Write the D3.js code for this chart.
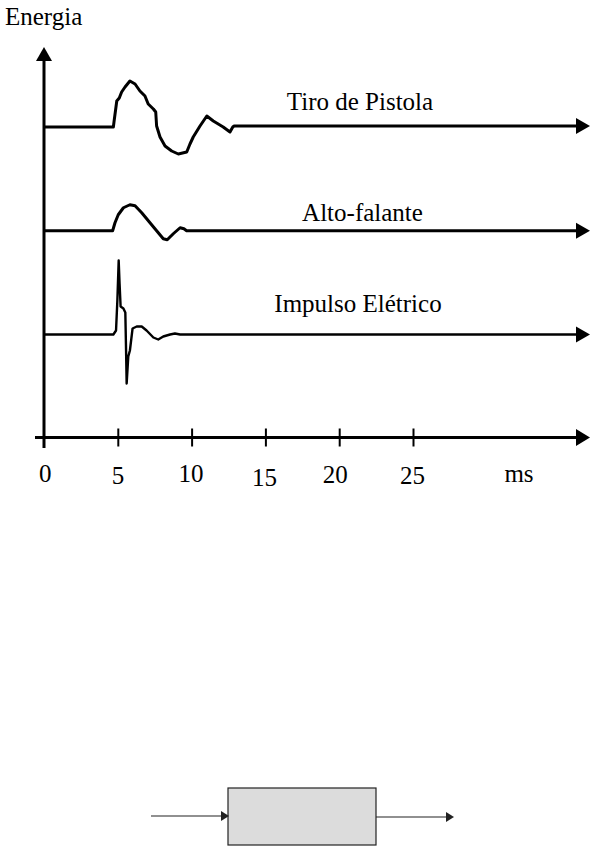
<!DOCTYPE html>
<html><head><meta charset="utf-8">
<script src="https://cdn.jsdelivr.net/npm/d3@7"></script>
<style>body{margin:0;background:#fff}svg{display:block}</style>
</head><body>
<script>
// ---- data ----
const seriesNames = ["Tiro de Pistola", "Alto-falante", "Impulso Elétrico"];
const tickValues = [0, 5, 10, 15, 20, 25];
const unitLabel = "ms";
const yTitle = "Energia";
// [ms, amplitude]
const tiroData = [[0,0],[4.70,0],[4.75,6],[4.93,26],[5.10,29],[5.26,35],[5.49,40],[5.82,46],[6.17,43],[6.50,36],[6.84,31],[7.06,23],[7.41,18],[7.57,15],[7.63,1],[7.86,-10],[8.20,-19],[8.65,-24],[9.10,-27],[9.67,-25],[9.89,-17],[10.11,-10],[10.57,1],[11.03,11],[11.47,6],[12.14,0],[12.60,-5],[12.79,0],[12.88,1],[36.9,1]];
const altoData = [[0,0],[4.65,0],[4.81,8],[5.03,16],[5.38,23],[5.82,26],[6.17,25],[6.62,18],[7.18,8],[7.63,0],[8.08,-8],[8.35,-9],[8.76,-3],[9.22,3],[9.48,2],[9.66,0],[36.9,0]];
const impulsoData = [[0,0],[4.70,0],[4.88,4],[4.97,34],[5.06,74],[5.12,51],[5.19,28],[5.38,26],[5.51,22],[5.56,-16],[5.60,-49],[5.71,-22],[5.82,-16],[6.00,6],[6.28,8],[6.62,8],[6.95,4],[7.41,-3],[7.74,-5],[8.08,-2],[8.54,0],[8.87,1],[9.22,0],[36.9,0]];
const allSeries = [tiroData, altoData, impulsoData];

const W = 605, H = 846;
const svg = d3.select("body").append("svg").attr("width", W).attr("height", H);

const x = d3.scaleLinear().domain([0, 25]).range([44, 413]);
const row = d3.scalePoint().domain(seriesNames).range([127, 334.5]);
const amp = d3.scaleLinear().domain([0, 1]).range([0, -1]);
const axisY = 437.5;
const xEnd = 590;
const serif = "'Liberation Serif','Times New Roman',serif";
const fs = 25;

function rightArrow(tipX, yy, len, half) {
  svg.append("path").attr("d", `M${tipX},${yy}L${tipX-len},${yy-half}L${tipX-len},${yy+half}Z`).attr("fill", "#000");
}

// y axis
svg.append("line").attr("x1", x(0)).attr("x2", x(0)).attr("y1", 58).attr("y2", 448)
  .attr("stroke", "#000").attr("stroke-width", 3);
svg.append("path").attr("d", `M${x(0)},47L${x(0)-8},61L${x(0)+8},61Z`).attr("fill", "#000");
svg.append("text").attr("x", 5).attr("y", 25).attr("font-family", serif).attr("font-size", fs)
  .text(yTitle);

// x axis
svg.append("line").attr("x1", 35).attr("x2", xEnd - 10).attr("y1", axisY).attr("y2", axisY)
  .attr("stroke", "#000").attr("stroke-width", 3);
rightArrow(xEnd, axisY, 14, 8.5);
const ax = svg.append("g").attr("transform", `translate(0,${axisY})`)
  .call(d3.axisBottom(x).tickValues(tickValues).tickSize(0).tickFormat(d3.format("d")));
ax.select(".domain").remove();
ax.selectAll(".tick").filter(d => d !== 0).append("line")
  .attr("y1", -9).attr("y2", 9).attr("stroke", "#000").attr("stroke-width", 2);
const labelBase = {0: 482, 5: 484, 10: 482, 15: 486, 20: 483, 25: 483.5};
const labelDx = {0: 0.7, 5: -0.4, 10: -1, 15: -1.4, 20: -4.5, 25: -1};
ax.selectAll(".tick text").attr("font-family", serif).attr("font-size", fs).attr("fill", "#000")
  .attr("dy", null).attr("y", d => labelBase[d] - axisY).attr("dx", d => labelDx[d] + "px");
svg.append("text").attr("x", 519).attr("y", 482).attr("text-anchor", "middle")
  .attr("font-family", serif).attr("font-size", fs).text(unitLabel);

// series
const widths = [3, 3, 2.4];
allSeries.forEach((data, i) => {
  const base = row(seriesNames[i]);
  const line = d3.line().x(d => x(d[0])).y(d => base + amp(d[1]));
  const pts = data.slice(0, -1).concat([[x.invert(xEnd - 12), data[data.length-1][1]]]);
  svg.append("path").attr("d", line(pts))
    .attr("fill", "none").attr("stroke", "#000").attr("stroke-width", widths[i])
    .attr("stroke-linejoin", "round");
  rightArrow(xEnd, base + amp(data[data.length-1][1]), 14, 8);
});
const labelY = [109.5, 220.7, 312];
const labelX = [360, 362.5, 358];
seriesNames.forEach((n, i) => {
  svg.append("text").attr("x", labelX[i]).attr("y", labelY[i]).attr("text-anchor", "middle")
    .attr("font-family", serif).attr("font-size", fs).text(n);
});

// bottom block diagram
svg.append("rect").attr("x", 228).attr("y", 788).attr("width", 148).attr("height", 57)
  .attr("fill", "#dcdcdc").attr("stroke", "#222").attr("stroke-width", 1.2);
svg.append("line").attr("x1", 151).attr("x2", 222).attr("y1", 816).attr("y2", 816).attr("stroke", "#222").attr("stroke-width", 1.2);
svg.append("path").attr("d", "M229,816L221,811L221,821Z").attr("fill", "#222");
svg.append("line").attr("x1", 376).attr("x2", 447).attr("y1", 817).attr("y2", 817).attr("stroke", "#222").attr("stroke-width", 1.2);
svg.append("path").attr("d", "M454,817L446,812L446,822Z").attr("fill", "#222");
</script>
</body></html>
